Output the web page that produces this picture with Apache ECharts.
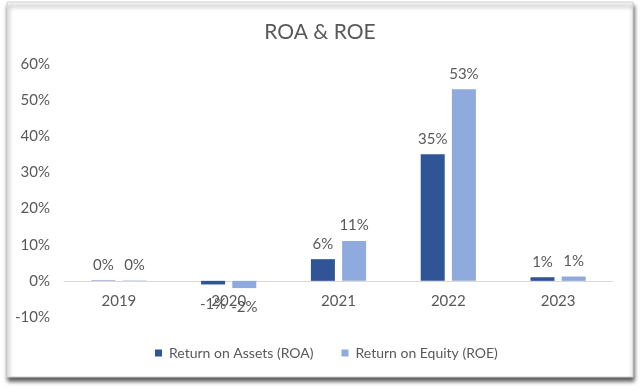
<!DOCTYPE html>
<html><head><meta charset="utf-8">
<script src="https://cdn.jsdelivr.net/npm/echarts@6/dist/echarts.min.js"></script>
<style>html,body{margin:0;padding:0;background:#fff}#c{width:640px;height:390px}</style>
</head><body><div id="c"></div>
<script>
var categories = ['2019', '2020', '2021', '2022', '2023'];
var roa = [0.1, -1, 6, 35, 1];
var roe = [0.1, -2, 11, 53, 1.2];
var roaLabels = ['0%', '-1%', '6%', '35%', '1%'];
var roeLabels = ['0%', '-2%', '11%', '53%', '1%'];
var yTicks = {min: -10, max: 60, interval: 10};
var seriesNames = ['Return on Assets (ROA)', 'Return on Equity (ROE)'];

var FONT = 'Lato';
var TXT = '#595959';
function mk(vals, labels) {
  return vals.map(function (v, i) {
    return {value: v, label: {position: v < 0 ? 'bottom' : 'top', distance: v < 0 ? 12 : 8, formatter: labels[i]}};
  });
}
var chart = echarts.init(document.getElementById('c'), null, {renderer: 'canvas'});
chart.setOption({
  animation: false,
  graphic: [{
    type: 'rect', z: -10, silent: true,
    shape: {x: 7, y: 2, width: 626, height: 375},
    style: {fill: '#fff', stroke: '#d0d0d0', lineWidth: 1,
      shadowColor: 'rgba(0,0,0,0.65)', shadowBlur: 4, shadowOffsetX: 1, shadowOffsetY: 4}
  }],
  title: {text: 'ROA & ROE', left: 'center', top: 17,
    textStyle: {fontFamily: FONT, fontSize: 21, fontWeight: 'normal', color: TXT}},
  legend: {left: 150, top: 341, icon: 'rect', itemWidth: 7, itemHeight: 7, itemGap: 28,
    textStyle: {fontFamily: FONT, fontSize: 14, color: TXT, padding: [0, 0, 0, 2]},
    data: seriesNames},
  grid: {left: 64, right: 27, top: 64, bottom: 73},
  xAxis: {type: 'category', data: categories, position: 'bottom', offset: -36,
    axisLine: {onZero: false, lineStyle: {color: '#d9d9d9', width: 1}},
    axisTick: {show: false},
    axisLabel: {fontFamily: FONT, fontSize: 15, color: TXT, margin: 13}},
  yAxis: {type: 'value', min: yTicks.min, max: yTicks.max, interval: yTicks.interval,
    splitLine: {show: false}, axisLine: {show: false}, axisTick: {show: false},
    axisLabel: {formatter: '{value}%', fontFamily: FONT, fontSize: 15, color: TXT, margin: 14}},
  series: [
    {name: seriesNames[0], type: 'bar', data: mk(roa, roaLabels), barWidth: 24, barGap: '30%',
      itemStyle: {color: '#2F5597'},
      label: {show: true, fontFamily: FONT, fontSize: 15, color: TXT}},
    {name: seriesNames[1], type: 'bar', data: mk(roe, roeLabels), barWidth: 24,
      itemStyle: {color: '#8FAADC'},
      label: {show: true, fontFamily: FONT, fontSize: 15, color: TXT}}
  ]
});
</script></body></html>
